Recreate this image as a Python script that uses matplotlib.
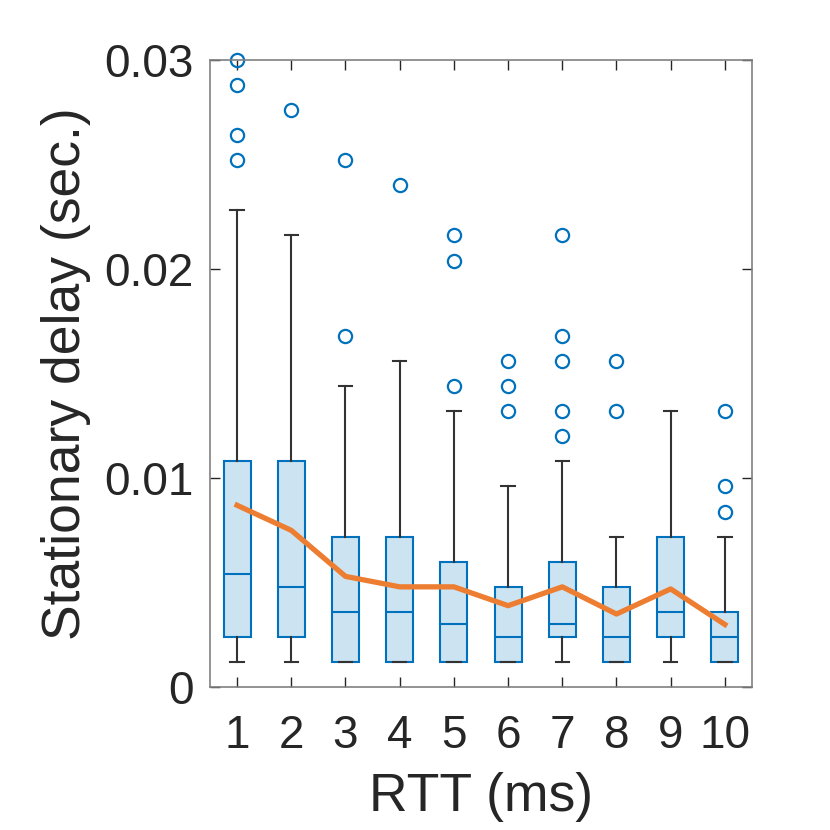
import matplotlib
matplotlib.use('Agg')
import matplotlib.pyplot as plt

plt.rcParams['font.family'] = ['Liberation Sans', 'DejaVu Sans']

rtt = [1, 2, 3, 4, 5, 6, 7, 8, 9, 10]
q1 = [0.0024, 0.0024, 0.0012, 0.0012, 0.0012, 0.0012, 0.0024, 0.0012, 0.0024, 0.0012]
median = [0.0054, 0.0048, 0.0036, 0.0036, 0.0030, 0.0024, 0.0030, 0.0024, 0.0036, 0.0024]
q3 = [0.0108, 0.0108, 0.0072, 0.0072, 0.0060, 0.0048, 0.0060, 0.0048, 0.0072, 0.0036]
whis_low = [0.0012, 0.0012, 0.0012, 0.0012, 0.0012, 0.0012, 0.0012, 0.0012, 0.0012, 0.0012]
whis_high = [0.0228, 0.0216, 0.0144, 0.0156, 0.0132, 0.0096, 0.0108, 0.0072, 0.0132, 0.0072]
outliers = [
    [0.0252, 0.0264, 0.0288, 0.0300],
    [0.0276],
    [0.0168, 0.0252],
    [0.0240],
    [0.0144, 0.0204, 0.0216],
    [0.0132, 0.0144, 0.0156],
    [0.0120, 0.0132, 0.0156, 0.0168, 0.0216],
    [0.0132, 0.0156],
    [],
    [0.0084, 0.0096, 0.0132],
]
mean_delay = [0.0087, 0.0075, 0.0053, 0.0048, 0.0048, 0.0039, 0.0048, 0.0035, 0.0047, 0.0030]

blue = '#0072BD'
orange = '#ED7D31'
axcol = '#262626'

stats = []
for i in range(len(rtt)):
    stats.append({'med': median[i], 'q1': q1[i], 'q3': q3[i],
                  'whislo': whis_low[i], 'whishi': whis_high[i],
                  'fliers': outliers[i]})

fig = plt.figure(figsize=(8.3, 8.3), dpi=100)
ax = fig.add_axes([0.253, 0.172, 0.653, 0.756])

bp = ax.bxp(stats, positions=rtt, widths=0.5, patch_artist=True,
            boxprops=dict(facecolor='#CCE3F2', edgecolor=blue, linewidth=1.5),
            medianprops=dict(color=blue, linewidth=1.5),
            whiskerprops=dict(color='#333333', linewidth=1.5),
            capprops=dict(color='#333333', linewidth=1.5),
            capwidths=0.25,
            flierprops=dict(marker='o', markerfacecolor='none', markeredgecolor=blue,
                            markersize=9.5, markeredgewidth=1.6))
for f in bp['fliers']:
    f.set_clip_on(False)

ax.plot(rtt, mean_delay, color=orange, linewidth=3.8, zorder=5)

ax.set_xlim(0.5, 10.5)
ax.set_ylim(0, 0.03)
ax.set_xticks(rtt)
ax.set_xticklabels([str(r) for r in rtt])
ax.set_yticks([0, 0.01, 0.02, 0.03])
ax.set_yticklabels(['0', '0.01', '0.02', '0.03'])

ax.tick_params(direction='in', length=7, width=1, colors=axcol, labelsize=33,
               top=True, right=True)
ax.tick_params(axis='x', pad=19)
ax.tick_params(axis='y', pad=12)
for s in ax.spines.values():
    s.set_color('#808080')
    s.set_linewidth(1.2)

ax.set_xlabel('RTT (ms)', fontsize=38.5, color=axcol, labelpad=10)
ax.set_ylabel('Stationary delay (sec.)', fontsize=38.5, color=axcol, labelpad=9)

fig.savefig('out.png', dpi=100)
